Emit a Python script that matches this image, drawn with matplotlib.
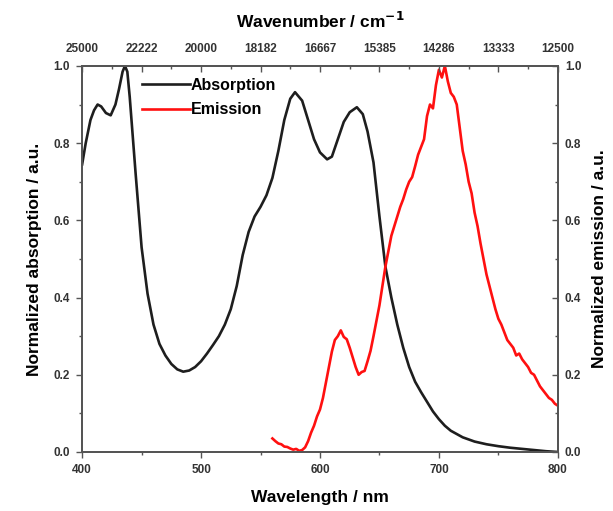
import matplotlib
matplotlib.use("Agg")
import matplotlib.pyplot as plt
from matplotlib.ticker import MultipleLocator, FormatStrFormatter
from matplotlib.lines import Line2D

# absorption spectrum (normalized)
abs_wl = [400, 403, 407, 410, 413, 416, 420, 424, 428, 431, 434, 436, 438, 440,
          445, 450, 455, 460, 465, 470, 475, 480, 485, 490, 495, 500, 505, 510,
          515, 520, 525, 530, 535, 540, 545, 550, 555, 560, 565, 570, 575, 579,
          585, 590, 595, 600, 606, 610, 615, 620, 625, 631, 636, 640, 645, 650,
          655, 660, 665, 670, 675, 680, 685, 690, 695, 700, 705, 710, 720, 730,
          740, 750, 760, 770, 780, 790, 800]
abs_val = [0.745, 0.80, 0.86, 0.885, 0.90, 0.895, 0.878, 0.872, 0.90, 0.94,
           0.985, 1.0, 0.985, 0.92, 0.72, 0.53, 0.41, 0.33, 0.28, 0.25, 0.228,
           0.214, 0.208, 0.211, 0.22, 0.235, 0.255, 0.277, 0.30, 0.33, 0.37,
           0.43, 0.51, 0.57, 0.61, 0.635, 0.665, 0.71, 0.78, 0.86, 0.915, 0.932,
           0.91, 0.86, 0.81, 0.776, 0.758, 0.765, 0.81, 0.855, 0.88, 0.893,
           0.875, 0.83, 0.75, 0.61, 0.48, 0.40, 0.33, 0.27, 0.22, 0.182, 0.155,
           0.13, 0.105, 0.085, 0.068, 0.055, 0.038, 0.027, 0.02, 0.015, 0.011,
           0.008, 0.005, 0.002, 0.0]

# emission spectrum (normalized)
em_wl = [560, 562.5, 565, 567.5, 570, 572.5, 575, 577.5, 580, 582.5, 585,
         587.5, 590, 592.5, 595, 597.5, 600, 602.5, 605, 607.5, 610, 612.5,
         615, 617.5, 620, 622.5, 625, 627.5, 630, 632.5, 635, 637.5, 640,
         642.5, 645, 647.5, 650, 652.5, 655, 657.5, 660, 662.5, 665, 667.5,
         670, 672.5, 675, 677.5, 680, 682.5, 685, 687.5, 690, 692.5, 695,
         697.5, 700, 702.5, 705, 707.5, 710, 712.5, 715, 717.5, 720, 722.5,
         725, 727.5, 730, 732.5, 735, 737.5, 740, 742.5, 745, 747.5, 750,
         752.5, 755, 757.5, 760, 762.5, 765, 767.5, 770, 772.5, 775, 777.5,
         780, 782.5, 785, 787.5, 790, 792.5, 795, 797.5, 800]
em_val = [0.035, 0.028, 0.022, 0.02, 0.014, 0.013, 0.009, 0.006, 0.008, 0.003,
          0.005, 0.012, 0.028, 0.05, 0.068, 0.092, 0.11, 0.14, 0.18, 0.22,
          0.26, 0.29, 0.30, 0.315, 0.298, 0.292, 0.27, 0.245, 0.22, 0.2,
          0.207, 0.21, 0.235, 0.262, 0.30, 0.34, 0.38, 0.43, 0.48, 0.52,
          0.56, 0.585, 0.61, 0.635, 0.655, 0.68, 0.70, 0.712, 0.74, 0.77,
          0.79, 0.81, 0.87, 0.90, 0.89, 0.95, 0.99, 0.97, 1.0, 0.96, 0.93,
          0.92, 0.90, 0.84, 0.78, 0.745, 0.70, 0.67, 0.62, 0.585, 0.54, 0.50,
          0.46, 0.43, 0.40, 0.37, 0.345, 0.33, 0.31, 0.29, 0.28, 0.27, 0.25,
          0.255, 0.24, 0.23, 0.22, 0.205, 0.20, 0.185, 0.17, 0.16, 0.15,
          0.14, 0.135, 0.125, 0.12]

top_pos = [400, 450, 500, 550, 600, 650, 700, 750, 800]
top_labels = [str(int(round(1e7 / w))) for w in top_pos]

C_ABS = "#1e1e1e"
C_EM = "#ff1010"
C_AX = "#555555"

plt.rcParams["font.family"] = "Liberation Sans"
plt.rcParams["font.weight"] = "bold"
plt.rcParams["mathtext.default"] = "bf"

fig = plt.figure(figsize=(6.13, 5.11), dpi=100)
ax = fig.add_axes([0.134, 0.1155, 0.776, 0.7555])
ax.plot(abs_wl, abs_val, color=C_ABS, lw=1.9)
ax.set_xlim(400, 800)
ax.set_ylim(0, 1.0)
ax.xaxis.set_major_locator(MultipleLocator(100))
ax.xaxis.set_minor_locator(MultipleLocator(50))
ax.yaxis.set_major_locator(MultipleLocator(0.2))
ax.yaxis.set_minor_locator(MultipleLocator(0.1))
ax.yaxis.set_major_formatter(FormatStrFormatter("%.1f"))
ax.tick_params(which="major", direction="out", length=4, width=1, labelsize=8.5,
               color=C_AX, labelcolor="#333333", pad=5)
ax.tick_params(which="minor", direction="out", length=2.5, width=1, color=C_AX)
ax.set_xlabel("Wavelength / nm", fontsize=12.5, fontweight="bold", labelpad=10)
ax.set_ylabel("Normalized absorption / a.u.", fontsize=12.5, fontweight="bold", labelpad=8)

ax2 = ax.twinx()
ax2.plot(em_wl, em_val, color=C_EM, lw=1.9)
ax2.set_ylim(0, 1.0)
ax2.yaxis.set_major_locator(MultipleLocator(0.2))
ax2.yaxis.set_minor_locator(MultipleLocator(0.1))
ax2.yaxis.set_major_formatter(FormatStrFormatter("%.1f"))
ax2.tick_params(which="major", direction="in", length=4, width=1, labelsize=8.5,
                color=C_AX, labelcolor="#333333", pad=5)
ax2.tick_params(which="minor", direction="in", length=2.5, width=1, color=C_AX)
ax2.set_ylabel("Normalized emission / a.u.", fontsize=12.5, fontweight="bold", labelpad=8)

ax3 = ax.twiny()
ax3.set_xlim(400, 800)
ax3.set_xticks(top_pos)
ax3.set_xticklabels(top_labels)
ax3.xaxis.set_minor_locator(MultipleLocator(25))
ax3.tick_params(which="major", direction="in", length=4, width=1, labelsize=8.5,
                color=C_AX, labelcolor="#333333", pad=8)
ax3.tick_params(which="minor", direction="in", length=2.5, width=1, color=C_AX)
ax3.set_xlabel(r"Wavenumber / cm$^{-1}$", fontsize=12.5, fontweight="bold", labelpad=11)

for a in (ax, ax2, ax3):
    for s in a.spines.values():
        s.set_linewidth(1.2)
        s.set_color(C_AX)

handles = [Line2D([0], [0], color=C_ABS, lw=1.9, label="Absorption"),
           Line2D([0], [0], color=C_EM, lw=1.9, label="Emission")]
ax3.legend(handles=handles, loc="upper left", bbox_to_anchor=(0.1, 1.0),
           frameon=False, fontsize=11.5, handlelength=3.0, handletextpad=0.05,
           labelspacing=0.6, borderpad=0.25)

fig.savefig("out.png", dpi=100)
